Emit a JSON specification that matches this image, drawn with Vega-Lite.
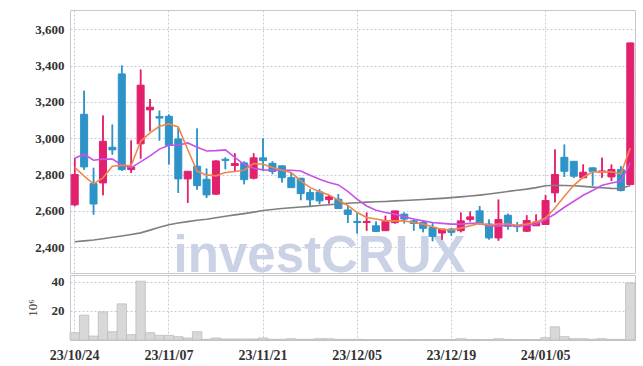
{
"$schema": "https://vega.github.io/schema/vega-lite/v6.json",
"padding": {"left": 25, "top": 9, "right": 9, "bottom": 5},
"background": "white",
"spacing": 0,
"config": {
  "view": {"stroke": "#c8c8c8"},
  "axis": {"labelFont": "Liberation Sans Narrow", "labelFontWeight": "bold", "labelFontSize": 13, "labelColor": "#333333", "gridColor": "#c5c9dd", "gridDash": [2, 2], "ticks": false, "domain": false}
},
"datasets": {
"mark": [{"date": "23/11/29", "wy": 2262}],
"d": [
{"date":"23/10/24","o":2633,"h":2890,"l":2626,"c":2800,"dir":"up","ma5":2840,"ma20":2890,"ma60":2430,"vol":5.0},
{"date":"23/10/25","o":3132,"h":3262,"l":2827,"c":2842,"dir":"down","ma5":2791,"ma20":2912,"ma60":2435,"vol":17.1},
{"date":"23/10/26","o":2750,"h":2837,"l":2580,"c":2638,"dir":"down","ma5":2749,"ma20":2879,"ma60":2440,"vol":2.7},
{"date":"23/10/27","o":2754,"h":3125,"l":2686,"c":2983,"dir":"up","ma5":2782,"ma20":2885,"ma60":2447,"vol":19.4},
{"date":"23/10/30","o":2950,"h":3075,"l":2910,"c":2936,"dir":"down","ma5":2846,"ma20":2885,"ma60":2455,"vol":5.7},
{"date":"23/10/31","o":3354,"h":3400,"l":2820,"c":2827,"dir":"down","ma5":2850,"ma20":2853,"ma60":2462,"vol":24.9},
{"date":"23/11/01","o":2827,"h":2987,"l":2809,"c":2842,"dir":"up","ma5":2850,"ma20":2838,"ma60":2470,"vol":3.7},
{"date":"23/11/02","o":2969,"h":3378,"l":2888,"c":3292,"dir":"up","ma5":2983,"ma20":2870,"ma60":2479,"vol":40.5},
{"date":"23/11/03","o":3156,"h":3216,"l":3038,"c":3171,"dir":"up","ma5":3029,"ma20":2903,"ma60":2494,"vol":5.0},
{"date":"23/11/06","o":3119,"h":3152,"l":2987,"c":3111,"dir":"down","ma5":3066,"ma20":2940,"ma60":2510,"vol":3.2},
{"date":"23/11/07","o":3121,"h":3130,"l":2855,"c":2961,"dir":"down","ma5":3079,"ma20":2961,"ma60":2524,"vol":3.2},
{"date":"23/11/08","o":2996,"h":3057,"l":2699,"c":2776,"dir":"down","ma5":3062,"ma20":2961,"ma60":2533,"vol":2.3},
{"date":"23/11/09","o":2776,"h":2818,"l":2644,"c":2818,"dir":"up","ma5":2938,"ma20":2974,"ma60":2541,"vol":1.4},
{"date":"23/11/10","o":2846,"h":3053,"l":2717,"c":2739,"dir":"down","ma5":2818,"ma20":2950,"ma60":2548,"vol":5.7},
{"date":"23/11/13","o":2774,"h":2833,"l":2671,"c":2688,"dir":"down","ma5":2798,"ma20":2930,"ma60":2554,"vol":0.5},
{"date":"23/11/14","o":2692,"h":2878,"l":2688,"c":2875,"dir":"up","ma5":2793,"ma20":2932,"ma60":2562,"vol":1.4},
{"date":"23/11/15","o":2884,"h":2894,"l":2829,"c":2878,"dir":"down","ma5":2811,"ma20":2936,"ma60":2570,"vol":0.7},
{"date":"23/11/16","o":2850,"h":2917,"l":2817,"c":2861,"dir":"up","ma5":2817,"ma20":2894,"ma60":2578,"vol":0.7},
{"date":"23/11/17","o":2864,"h":2872,"l":2747,"c":2772,"dir":"down","ma5":2824,"ma20":2855,"ma60":2585,"vol":0.7},
{"date":"23/11/20","o":2780,"h":2917,"l":2774,"c":2892,"dir":"up","ma5":2861,"ma20":2835,"ma60":2593,"vol":0.7},
{"date":"23/11/21","o":2892,"h":3000,"l":2820,"c":2877,"dir":"down","ma5":2857,"ma20":2826,"ma60":2602,"vol":1.4},
{"date":"23/11/22","o":2862,"h":2872,"l":2802,"c":2817,"dir":"down","ma5":2839,"ma20":2824,"ma60":2608,"vol":0.5},
{"date":"23/11/23","o":2848,"h":2848,"l":2756,"c":2783,"dir":"down","ma5":2824,"ma20":2824,"ma60":2613,"vol":0.5},
{"date":"23/11/24","o":2783,"h":2811,"l":2728,"c":2728,"dir":"down","ma5":2811,"ma20":2824,"ma60":2617,"vol":0.9},
{"date":"23/11/27","o":2780,"h":2780,"l":2659,"c":2695,"dir":"down","ma5":2765,"ma20":2820,"ma60":2621,"vol":0.5},
{"date":"23/11/28","o":2701,"h":2719,"l":2627,"c":2661,"dir":"down","ma5":2728,"ma20":2796,"ma60":2625,"vol":0.5},
{"date":"23/11/29","o":2704,"h":2719,"l":2637,"c":2655,"dir":"down","ma5":2706,"ma20":2774,"ma60":2630,"vol":0.9},
{"date":"23/11/30","o":2662,"h":2688,"l":2640,"c":2677,"dir":"up","ma5":2688,"ma20":2756,"ma60":2634,"vol":0.9},
{"date":"23/12/01","o":2664,"h":2692,"l":2613,"c":2613,"dir":"down","ma5":2659,"ma20":2743,"ma60":2638,"vol":0.4},
{"date":"23/12/04","o":2605,"h":2630,"l":2533,"c":2580,"dir":"down","ma5":2630,"ma20":2708,"ma60":2642,"vol":0.4},
{"date":"23/12/05","o":2542,"h":2591,"l":2476,"c":2536,"dir":"down","ma5":2591,"ma20":2664,"ma60":2645,"vol":0.5},
{"date":"23/12/06","o":2536,"h":2591,"l":2491,"c":2542,"dir":"up","ma5":2564,"ma20":2627,"ma60":2648,"vol":0.3},
{"date":"23/12/07","o":2518,"h":2542,"l":2487,"c":2487,"dir":"down","ma5":2555,"ma20":2604,"ma60":2650,"vol":0.3},
{"date":"23/12/08","o":2491,"h":2573,"l":2491,"c":2542,"dir":"up","ma5":2545,"ma20":2591,"ma60":2652,"vol":0.3},
{"date":"23/12/11","o":2535,"h":2600,"l":2531,"c":2600,"dir":"up","ma5":2545,"ma20":2582,"ma60":2655,"vol":0.3},
{"date":"23/12/12","o":2582,"h":2591,"l":2531,"c":2555,"dir":"down","ma5":2545,"ma20":2567,"ma60":2657,"vol":0.3},
{"date":"23/12/13","o":2545,"h":2555,"l":2491,"c":2531,"dir":"down","ma5":2536,"ma20":2555,"ma60":2660,"vol":0.3},
{"date":"23/12/14","o":2536,"h":2549,"l":2482,"c":2504,"dir":"down","ma5":2527,"ma20":2545,"ma60":2663,"vol":0.3},
{"date":"23/12/15","o":2509,"h":2536,"l":2433,"c":2460,"dir":"down","ma5":2513,"ma20":2536,"ma60":2666,"vol":0.3},
{"date":"23/12/18","o":2478,"h":2500,"l":2440,"c":2500,"dir":"up","ma5":2498,"ma20":2531,"ma60":2669,"vol":0.3},
{"date":"23/12/19","o":2500,"h":2505,"l":2464,"c":2482,"dir":"down","ma5":2495,"ma20":2527,"ma60":2673,"vol":0.4},
{"date":"23/12/20","o":2491,"h":2591,"l":2482,"c":2545,"dir":"up","ma5":2505,"ma20":2527,"ma60":2677,"vol":0.9},
{"date":"23/12/21","o":2553,"h":2596,"l":2542,"c":2567,"dir":"up","ma5":2518,"ma20":2531,"ma60":2682,"vol":0.4},
{"date":"23/12/22","o":2600,"h":2627,"l":2524,"c":2531,"dir":"down","ma5":2531,"ma20":2531,"ma60":2687,"vol":0.3},
{"date":"23/12/26","o":2528,"h":2552,"l":2442,"c":2451,"dir":"down","ma5":2522,"ma20":2517,"ma60":2693,"vol":0.3},
{"date":"23/12/27","o":2451,"h":2662,"l":2436,"c":2552,"dir":"up","ma5":2528,"ma20":2516,"ma60":2700,"vol":0.9},
{"date":"23/12/28","o":2576,"h":2584,"l":2497,"c":2515,"dir":"down","ma5":2528,"ma20":2521,"ma60":2707,"vol":0.4},
{"date":"24/01/02","o":2518,"h":2539,"l":2484,"c":2513,"dir":"down","ma5":2521,"ma20":2516,"ma60":2714,"vol":0.3},
{"date":"24/01/03","o":2488,"h":2576,"l":2484,"c":2547,"dir":"up","ma5":2528,"ma20":2521,"ma60":2720,"vol":0.3},
{"date":"24/01/04","o":2518,"h":2580,"l":2518,"c":2539,"dir":"up","ma5":2539,"ma20":2528,"ma60":2728,"vol":0.3},
{"date":"24/01/05","o":2525,"h":2688,"l":2525,"c":2657,"dir":"up","ma5":2561,"ma20":2552,"ma60":2738,"vol":1.6},
{"date":"24/01/08","o":2699,"h":2938,"l":2648,"c":2800,"dir":"up","ma5":2616,"ma20":2583,"ma60":2741,"vol":9.1},
{"date":"24/01/09","o":2895,"h":2965,"l":2787,"c":2818,"dir":"down","ma5":2681,"ma20":2620,"ma60":2740,"vol":2.3},
{"date":"24/01/10","o":2873,"h":2873,"l":2782,"c":2791,"dir":"down","ma5":2741,"ma20":2653,"ma60":2738,"vol":0.9},
{"date":"24/01/11","o":2782,"h":2855,"l":2782,"c":2813,"dir":"up","ma5":2785,"ma20":2686,"ma60":2735,"vol":0.9},
{"date":"24/01/12","o":2837,"h":2837,"l":2739,"c":2818,"dir":"down","ma5":2815,"ma20":2712,"ma60":2731,"vol":0.5},
{"date":"24/01/15","o":2813,"h":2892,"l":2782,"c":2820,"dir":"up","ma5":2815,"ma20":2741,"ma60":2727,"vol":0.9},
{"date":"24/01/16","o":2787,"h":2855,"l":2764,"c":2828,"dir":"up","ma5":2815,"ma20":2754,"ma60":2724,"vol":0.4},
{"date":"24/01/17","o":2828,"h":2846,"l":2708,"c":2712,"dir":"down","ma5":2804,"ma20":2763,"ma60":2723,"vol":0.4},
{"date":"24/01/18","o":2745,"h":3525,"l":2745,"c":3525,"dir":"up","ma5":2947,"ma20":2864,"ma60":2740,"vol":39.3}
]
},
"vconcat": [
{
  "width": 565,
  "height": 263,
  "layer": [
    {
      "data": {"name": "d"},
      "mark": {"type": "rule", "strokeWidth": 1.5},
      "encoding": {
        "x": {"field": "date", "type": "ordinal", "sort": null,
              "scale": {"paddingInner": 0, "paddingOuter": 0, "domain": ["23/10/24","23/10/25","23/10/26","23/10/27","23/10/30","23/10/31","23/11/01","23/11/02","23/11/03","23/11/06","23/11/07","23/11/08","23/11/09","23/11/10","23/11/13","23/11/14","23/11/15","23/11/16","23/11/17","23/11/20","23/11/21","23/11/22","23/11/23","23/11/24","23/11/27","23/11/28","23/11/29","23/11/30","23/12/01","23/12/04","23/12/05","23/12/06","23/12/07","23/12/08","23/12/11","23/12/12","23/12/13","23/12/14","23/12/15","23/12/18","23/12/19","23/12/20","23/12/21","23/12/22","23/12/26","23/12/27","23/12/28","24/01/02","24/01/03","24/01/04","24/01/05","24/01/08","24/01/09","24/01/10","24/01/11","24/01/12","24/01/15","24/01/16","24/01/17","24/01/18"]},
              "axis": {"values": ["23/10/24","23/11/07","23/11/21","23/12/05","23/12/19","24/01/05"], "labels": false, "title": null, "grid": true, "bandPosition": 0.5, "minExtent": 0, "maxExtent": 0}},
        "y": {"field": "l", "type": "quantitative", "scale": {"domain": [2258, 3706], "nice": false, "zero": false},
              "axis": {"values": [2400, 2600, 2800, 3000, 3200, 3400, 3600], "labelExpr": "floor(datum.value / 1000) + ',' + (datum.value % 1000 == 0 ? '000' : '' + (datum.value % 1000))", "title": null, "grid": true, "labelPadding": 6}},
        "y2": {"field": "h"},
        "color": {"field": "dir", "type": "nominal", "scale": {"domain": ["up", "down"], "range": ["#e2206d", "#2e93c8"]}, "legend": null}
      }
    },
    {
      "data": {"name": "mark"},
      "mark": {"type": "text", "text": "investCRUX", "font": "Liberation Sans", "fontWeight": "bold", "fontSize": 51, "color": "#cbd2e6", "align": "center", "baseline": "alphabetic", "clip": true},
      "encoding": {
        "x": {"field": "date", "type": "ordinal", "sort": null},
        "y": {"field": "wy", "type": "quantitative", "title": null}
      }
    },
    {
      "data": {"name": "d"},
      "mark": {"type": "rule", "strokeWidth": 1.5},
      "encoding": {
        "x": {"field": "date", "type": "ordinal", "sort": null},
        "y": {"field": "l", "type": "quantitative", "title": null},
        "y2": {"field": "h"},
        "color": {"field": "dir", "type": "nominal", "scale": {"domain": ["up", "down"], "range": ["#e2206d", "#2e93c8"]}, "legend": null}
      }
    },
    {
      "data": {"name": "d"},
      "mark": {"type": "bar", "size": 7, "strokeWidth": 1},
      "encoding": {
        "x": {"field": "date", "type": "ordinal", "sort": null},
        "y": {"field": "o", "type": "quantitative", "title": null},
        "y2": {"field": "c"},
        "fill": {"field": "dir", "type": "nominal", "scale": {"domain": ["up", "down"], "range": ["#e2206d", "#2e93c8"]}, "legend": null},
        "stroke": {"field": "dir", "type": "nominal", "scale": {"domain": ["up", "down"], "range": ["#e2206d", "#2e93c8"]}, "legend": null}
      }
    },
    {
      "data": {"name": "d"},
      "mark": {"type": "line", "color": "#7f7f7f", "strokeWidth": 1.6},
      "encoding": {
        "x": {"field": "date", "type": "ordinal", "sort": null},
        "y": {"field": "ma60", "type": "quantitative", "title": null}
      }
    },
    {
      "data": {"name": "d"},
      "mark": {"type": "line", "color": "#c852e8", "strokeWidth": 1.6},
      "encoding": {
        "x": {"field": "date", "type": "ordinal", "sort": null},
        "y": {"field": "ma20", "type": "quantitative", "title": null}
      }
    },
    {
      "data": {"name": "d"},
      "mark": {"type": "line", "color": "#f0874a", "strokeWidth": 1.6},
      "encoding": {
        "x": {"field": "date", "type": "ordinal", "sort": null},
        "y": {"field": "ma5", "type": "quantitative", "title": null}
      }
    }
  ]
},
{
  "width": 565,
  "height": 65,
  "data": {"name": "d"},
  "mark": {"type": "bar", "fill": "#d8d8d8", "stroke": "#bdbdbd", "strokeWidth": 0.8},
  "encoding": {
    "x": {"field": "date", "type": "ordinal", "sort": null, "scale": {"paddingInner": 0, "paddingOuter": 0},
          "axis": {"values": ["23/10/24","23/11/07","23/11/21","23/12/05","23/12/19","24/01/05"], "labelAngle": 0, "title": null, "grid": true, "labelPadding": 8, "bandPosition": 0.5, "labelFontSize": 14}},
    "y": {"field": "vol", "type": "quantitative", "scale": {"domain": [0, 44.8], "nice": false},
          "axis": {"values": [20, 40], "title": "10⁶", "titleFont": "Liberation Serif", "titleFontWeight": "normal", "titleFontSize": 13, "titleColor": "#333333", "titlePadding": 12, "labelPadding": 6, "grid": true}}
  }
}
]
}
